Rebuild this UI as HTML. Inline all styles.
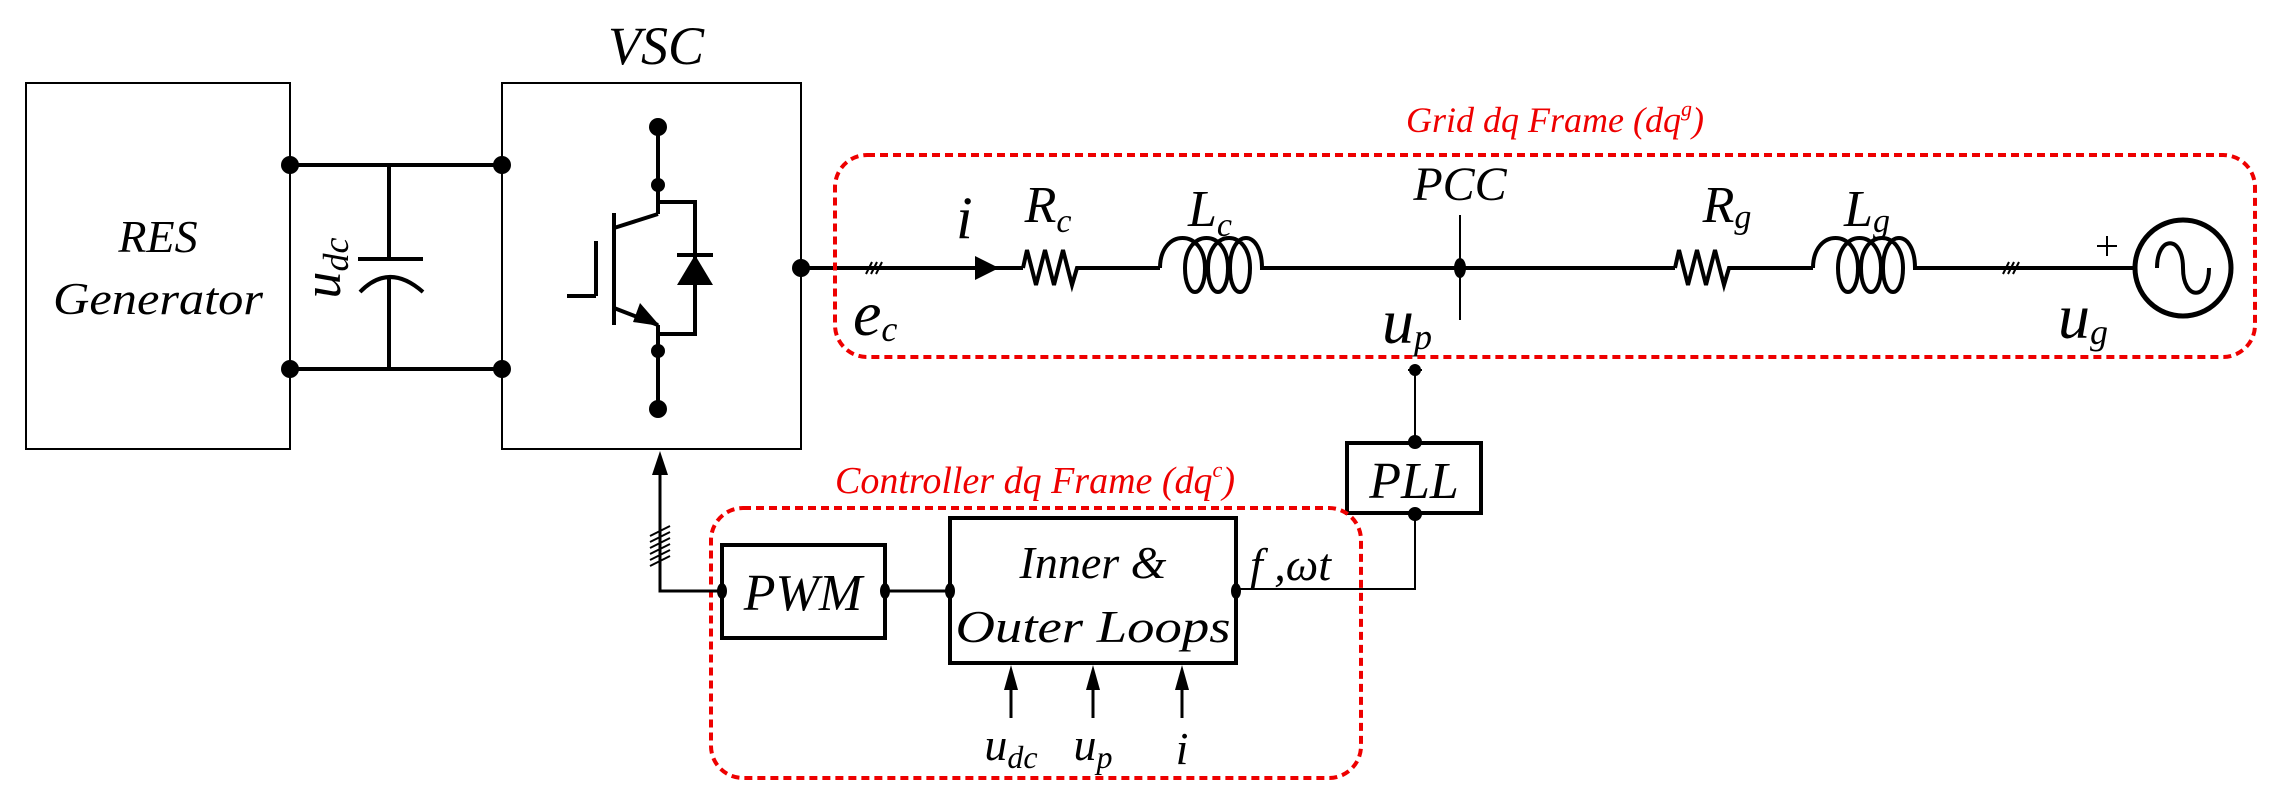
<!DOCTYPE html>
<html><head><meta charset="utf-8"><style>
html,body{margin:0;padding:0;background:#fff;}
svg{display:block;}
text{font-family:"Liberation Serif",serif;font-style:italic;}
</style></head><body>
<svg width="2273" height="808" viewBox="0 0 2273 808" xmlns="http://www.w3.org/2000/svg">
<!-- RES generator -->
<rect x="26" y="83" width="264" height="366" fill="none" stroke="#000" stroke-width="2"/>
<text x="158" y="252" font-size="46" text-anchor="middle">RES</text>
<text x="158" y="314" font-size="46" text-anchor="middle" textLength="210" lengthAdjust="spacingAndGlyphs">Generator</text>
<!-- VSC -->
<rect x="502" y="83" width="299" height="366" fill="none" stroke="#000" stroke-width="2"/>
<text x="656" y="64" font-size="54" text-anchor="middle">VSC</text>
<!-- DC rails -->
<g stroke="#000" stroke-width="4" fill="none">
<line x1="290" y1="165" x2="502" y2="165"/>
<line x1="290" y1="369" x2="502" y2="369"/>
<line x1="389" y1="165" x2="389" y2="259"/>
<line x1="389" y1="277" x2="389" y2="369"/>
<line x1="358" y1="259" x2="423" y2="259"/>
<path d="M360,292 Q389,262 423,292"/>
</g>
<g fill="#000">
<circle cx="290" cy="165" r="9"/><circle cx="290" cy="369" r="9"/>
<circle cx="502" cy="165" r="9"/><circle cx="502" cy="369" r="9"/>
</g>
<text transform="translate(340,268) rotate(-90)" font-size="54" text-anchor="middle">u<tspan font-size="36" dy="8">dc</tspan></text>
<!-- IGBT -->
<g stroke="#000" stroke-width="4" fill="none">
<line x1="658" y1="127" x2="658" y2="214"/>
<line x1="614" y1="228" x2="658" y2="214"/>
<line x1="614" y1="213" x2="614" y2="325"/>
<line x1="596" y1="241" x2="596" y2="296"/>
<line x1="567" y1="296" x2="596" y2="296"/>
<line x1="614" y1="308" x2="658" y2="325"/>
<line x1="658" y1="325" x2="658" y2="409"/>
<polyline points="658,202 695,202 695,334 658,334"/>
<line x1="677" y1="255" x2="713" y2="255"/>
</g>
<polygon points="695,255 677,285 713,285" fill="#000"/>
<polygon points="660,326 640,303 633,322" fill="#000"/>
<g fill="#000">
<circle cx="658" cy="127" r="9"/><circle cx="658" cy="185" r="7"/>
<circle cx="658" cy="351" r="7"/><circle cx="658" cy="409" r="9"/>
<circle cx="801" cy="268" r="9"/>
</g>
<!-- AC line -->
<g stroke="#000" stroke-width="4" fill="none">
<line x1="801" y1="268" x2="1023" y2="268"/>
<polyline points="1023,268 1027,250 1036,285 1045,250 1054,285 1063,250 1072,285 1077,268 1160,268"/>
<path d="M1160,268 C1160,228 1205,228 1205,268 C1205,300 1185,300 1185,268 C1185,228 1228,228 1228,268 C1228,300 1208,300 1208,268 C1208,228 1250,228 1250,268 C1250,300 1230,300 1230,268 C1230,228 1262,228 1262,268 L1675,268"/>
<polyline points="1675,268 1679,250 1688,285 1697,250 1706,285 1715,250 1724,285 1729,268 1813,268"/>
<path d="M1813,268 C1813,228 1858,228 1858,268 C1858,300 1838,300 1838,268 C1838,228 1881,228 1881,268 C1881,300 1861,300 1861,268 C1861,228 1903,228 1903,268 C1903,300 1883,300 1883,268 C1883,228 1915,228 1915,268 L2134,268"/>
<circle cx="2183" cy="268" r="48" stroke-width="5"/>
<path d="M2157,268 C2157,235 2183,235 2183,268 C2183,301 2209,301 2209,268" stroke-width="4"/>
</g>
<g stroke="#000" stroke-width="2">
<line x1="1460" y1="215" x2="1460" y2="320"/>
<line x1="866" y1="274" x2="872" y2="262"/><line x1="871" y1="274" x2="877" y2="262"/><line x1="876" y1="274" x2="882" y2="262"/>
<line x1="2003" y1="274" x2="2009" y2="262"/><line x1="2008" y1="274" x2="2014" y2="262"/><line x1="2013" y1="274" x2="2019" y2="262"/>
<line x1="2107" y1="236" x2="2107" y2="256"/><line x1="2097" y1="246" x2="2117" y2="246"/>
</g>
<ellipse cx="1460" cy="268" rx="6" ry="10" fill="#000"/>
<polygon points="975,256 975,280 999,268" fill="#000"/>
<text x="956" y="238" font-size="60">i</text>
<text x="1048" y="222" font-size="52" text-anchor="middle">R<tspan font-size="34" dy="10">c</tspan></text>
<text x="1210" y="226" font-size="52" text-anchor="middle">L<tspan font-size="34" dy="10">c</tspan></text>
<text x="1460" y="200" font-size="48" text-anchor="middle">PCC</text>
<text x="1727" y="222" font-size="52" text-anchor="middle">R<tspan font-size="34" dy="6">g</tspan></text>
<text x="1867" y="226" font-size="52" text-anchor="middle">L<tspan font-size="34" dy="6">g</tspan></text>
<text x="853" y="335" font-size="64">e<tspan font-size="36" dy="6">c</tspan></text>
<text x="1382" y="343" font-size="64">u<tspan font-size="36" dy="6">p</tspan></text>
<text x="2058" y="338" font-size="64">u<tspan font-size="36" dy="6">g</tspan></text>
<!-- Grid dashed frame -->
<rect x="835" y="155" width="1420" height="202" rx="32" fill="none" stroke="#e00" stroke-width="4" stroke-dasharray="8,5"/>
<text x="1555" y="132" font-size="36" fill="#e00" text-anchor="middle">Grid dq Frame (dq<tspan font-size="22" dy="-16">g</tspan><tspan dy="16">)</tspan></text>
<!-- PLL -->
<g stroke="#000" stroke-width="2" fill="none">
<line x1="1415" y1="370" x2="1415" y2="442"/>
<polyline points="1415,514 1415,589 1236,589"/>
<line x1="1408" y1="370" x2="1422" y2="370"/>
</g>
<rect x="1347" y="443" width="134" height="70" fill="none" stroke="#000" stroke-width="4"/>
<text x="1414" y="498" font-size="52" text-anchor="middle">PLL</text>
<g fill="#000"><circle cx="1415" cy="370" r="6"/><circle cx="1415" cy="442" r="7"/><circle cx="1415" cy="514" r="7"/></g>
<!-- Controller -->
<rect x="711" y="508" width="650" height="270" rx="32" fill="none" stroke="#e00" stroke-width="4" stroke-dasharray="8,5"/>
<text x="1035" y="493" font-size="38" fill="#e00" text-anchor="middle">Controller dq Frame (dq<tspan font-size="22" dy="-16">c</tspan><tspan dy="16">)</tspan></text>
<rect x="722" y="545" width="163" height="93" fill="none" stroke="#000" stroke-width="4"/>
<text x="803" y="610" font-size="52" text-anchor="middle">PWM</text>
<rect x="950" y="518" width="286" height="145" fill="none" stroke="#000" stroke-width="4"/>
<text x="1093" y="578" font-size="46" text-anchor="middle">Inner &amp;</text>
<text x="1093" y="642" font-size="46" text-anchor="middle" textLength="275" lengthAdjust="spacingAndGlyphs">Outer Loops</text>
<text x="1250" y="580" font-size="46">f ,ωt</text>
<g stroke="#000" stroke-width="3" fill="none">
<line x1="885" y1="591" x2="950" y2="591"/>
<polyline points="722,591 660,591 660,470"/>
<line x1="1011" y1="718" x2="1011" y2="690"/>
<line x1="1093" y1="718" x2="1093" y2="690"/>
<line x1="1182" y1="718" x2="1182" y2="690"/>
</g>
<g stroke="#000" stroke-width="2">
<line x1="650" y1="536" x2="670" y2="526"/><line x1="650" y1="542" x2="670" y2="532"/><line x1="650" y1="548" x2="670" y2="538"/><line x1="650" y1="554" x2="670" y2="544"/><line x1="650" y1="560" x2="670" y2="550"/><line x1="650" y1="566" x2="670" y2="556"/>
</g>
<g fill="#000">
<polygon points="660,451 652,475 668,475"/>
<polygon points="1011,665 1004,690 1018,690"/>
<polygon points="1093,665 1086,690 1100,690"/>
<polygon points="1182,665 1175,690 1189,690"/>
<ellipse cx="722" cy="591" rx="5" ry="8"/><ellipse cx="885" cy="591" rx="5" ry="8"/>
<ellipse cx="950" cy="591" rx="5" ry="8"/><ellipse cx="1236" cy="591" rx="5" ry="8"/>
</g>
<text x="1011" y="760" font-size="46" text-anchor="middle">u<tspan font-size="32" dy="8">dc</tspan></text>
<text x="1093" y="760" font-size="46" text-anchor="middle">u<tspan font-size="32" dy="8">p</tspan></text>
<text x="1182" y="764" font-size="46" text-anchor="middle">i</text>
</svg>
</body></html>
